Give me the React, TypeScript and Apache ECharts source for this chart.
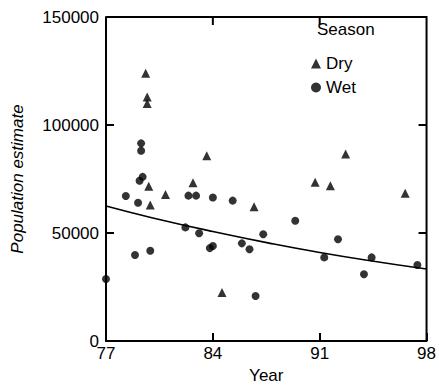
import React, { useEffect, useRef } from "react";
import * as echarts from "echarts";

const dryPoints: [number, number][] = [
  [79.6, 124000], [79.7, 113000], [79.7, 110000], [79.8, 71700], [79.9, 63000],
  [80.9, 67800], [82.7, 73300], [83.6, 85800], [84.6, 22500], [86.7, 62200],
  [90.7, 73500], [91.7, 71900], [92.7, 86600], [96.6, 68400],
];

const wetPoints: [number, number][] = [
  [77.0, 28700], [78.3, 67100], [78.9, 39800], [79.1, 64000], [79.2, 74200],
  [79.3, 88100], [79.3, 91500], [79.4, 76000], [79.9, 41800], [82.2, 52600],
  [82.4, 67300], [82.9, 67300], [83.1, 49900], [83.8, 43000], [84.0, 44000],
  [84.0, 66400], [85.3, 65000], [85.9, 45200], [86.4, 42500], [86.8, 20800],
  [87.3, 49400], [89.4, 55700], [91.3, 38700], [92.2, 47100], [93.9, 30900],
  [94.4, 38700], [97.4, 35200],
];

const curveYears = [77, 80, 84, 88, 91, 94, 98];
const curveValues = [62500, 57100, 50700, 44900, 41000, 37500, 33300];

const xTicks = [77, 84, 91, 98];
const yTicks = [0, 50000, 100000, 150000];

const FONT = "Liberation Sans, Arial, Helvetica, sans-serif";
const TICK_LEN = 8;

export default function App() {
  const ref = useRef<HTMLDivElement>(null);
  useEffect(() => {
    if (!ref.current) return;
    document.body.style.margin = "0";
    const chart = echarts.init(ref.current, null, { renderer: "svg" });
    const axisLine = () => ({ show: true, onZero: false, lineStyle: { color: "#000", width: 2 } });
    chart.setOption({
      animation: false,
      textStyle: { fontFamily: FONT },
      grid: { left: 106, right: 9, top: 17, bottom: 51, containLabel: false },
      legend: {
        data: ["Dry", "Wet"],
        orient: "vertical",
        left: 306,
        top: 50,
        itemGap: 7,
        itemWidth: 10,
        itemHeight: 10,
        textStyle: { fontSize: 17, color: "#000", fontFamily: FONT },
      },
      xAxis: {
        type: "value",
        min: xTicks[0],
        max: xTicks[xTicks.length - 1],
        interval: xTicks[1] - xTicks[0],
        splitLine: { show: false },
        axisLine: axisLine(),
        axisTick: { show: true, inside: true, length: TICK_LEN, lineStyle: { color: "#000", width: 2 } },
        axisLabel: {
          fontSize: 17,
          color: "#000",
          margin: 4,
          fontFamily: FONT,
          formatter: (v: number) => String(v),
        },
        name: "Year",
        nameLocation: "middle",
        nameGap: 24,
        nameTextStyle: { fontSize: 17, color: "#000", fontFamily: FONT },
      },
      yAxis: {
        type: "value",
        min: yTicks[0],
        max: yTicks[yTicks.length - 1],
        interval: yTicks[1] - yTicks[0],
        splitLine: { show: false },
        axisLine: axisLine(),
        axisTick: { show: true, inside: true, length: TICK_LEN, lineStyle: { color: "#000", width: 2 } },
        axisLabel: {
          fontSize: 17,
          color: "#000",
          margin: 7,
          fontFamily: FONT,
          formatter: (v: number) => String(v),
        },
        name: "Population estimate",
        nameLocation: "middle",
        nameGap: 80,
        nameTextStyle: { fontSize: 17, color: "#000", fontStyle: "italic", fontFamily: FONT },
      },
      series: [
        {
          type: "line",
          data: curveYears.map((y, i) => [y, curveValues[i]]),
          smooth: true,
          showSymbol: false,
          lineStyle: { color: "#000", width: 1.6 },
          silent: true,
        },
        {
          name: "Dry",
          type: "scatter",
          data: dryPoints,
          symbol: "triangle",
          symbolSize: 9,
          itemStyle: { color: "#000" },
        },
        {
          name: "Wet",
          type: "scatter",
          data: wetPoints,
          symbol: "circle",
          symbolSize: 8,
          itemStyle: { color: "#000" },
        },
      ],
    });

    // Frame (top and right sides) with inward ticks, placed from the axes' own scales
    const p = (x: number, y: number) =>
      chart.convertToPixel({ xAxisIndex: 0, yAxisIndex: 0 }, [x, y]) as number[];
    const x0 = xTicks[0], x1 = xTicks[xTicks.length - 1];
    const y0 = yTicks[0], y1 = yTicks[yTicks.length - 1];
    const tl = p(x0, y1);
    const br = p(x1, y0);
    const stroke = { stroke: "#000", lineWidth: 2 };
    const elements: any[] = [
      {
        type: "polyline",
        shape: { points: [[tl[0], tl[1]], [br[0], tl[1]], [br[0], br[1]]] },
        style: { fill: "none", ...stroke },
        z: 10,
      },
    ];
    xTicks.slice(1, -1).forEach((t) => {
      const tp = p(t, y1);
      elements.push({ type: "line", shape: { x1: tp[0], y1: tp[1], x2: tp[0], y2: tp[1] + TICK_LEN }, style: stroke, z: 10 });
    });
    yTicks.slice(1, -1).forEach((t) => {
      const r = p(x1, t);
      elements.push({ type: "line", shape: { x1: r[0], y1: r[1], x2: r[0] - TICK_LEN, y2: r[1] }, style: stroke, z: 10 });
    });
    elements.push({
      type: "text",
      left: 317,
      top: 21,
      style: { text: "Season", fontSize: 17, fill: "#000", fontFamily: FONT },
    });
    chart.setOption({ graphic: elements });

    return () => chart.dispose();
  }, []);
  return <div ref={ref} style={{ width: 439, height: 392 }} />;
}
